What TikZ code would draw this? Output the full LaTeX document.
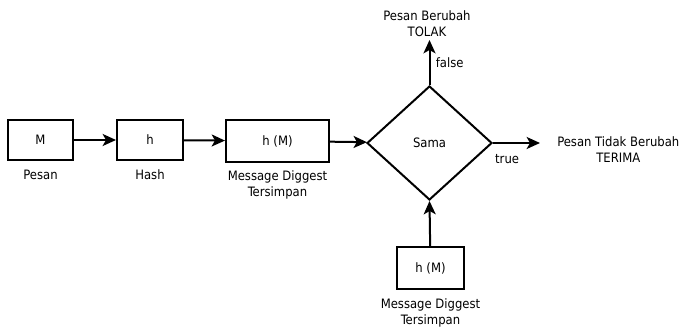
\documentclass[tikz,border=0pt]{standalone}
\usepackage{fontspec}
\setmainfont{DejaVu Sans Condensed}
\usepackage{tikz}
\usetikzlibrary{
  shapes.geometric,
  arrows.meta,
  positioning
}

\begin{document}
\begin{tikzpicture}[x=0.75pt, y=-0.75pt,
    every node/.style={font=\fontsize{9.7}{12}\selectfont},
    box/.style={draw, line width=1.5pt, inner sep=0pt, minimum height=30pt},
    decision/.style={draw, diamond, line width=1.5pt, inner sep=0pt, minimum width=93.75pt, minimum height=85.5pt},
    lbl/.style={align=center, inner sep=0pt},
    flow/.style={line width=1.5pt, -{Stealth[length=10pt, width=9pt, inset=2.5pt]}}
  ]
  \useasboundingbox (0,0) rectangle (687,331);

  \node[box, minimum width=48.75pt] (m) at (40.5,140) {M};
  \node[box, minimum width=49.5pt] (h) at (150,140) {h};
  \node[box, minimum width=77.25pt, minimum height=31.5pt] (hm) at (277.5,141) {h (M)};
  \node[decision] (sama) at (429.5,143) {Sama};
  \node[box, minimum width=50.25pt, minimum height=31.5pt] (hm2) at (430.5,268) {h (M)};

  \node[lbl, below=6.5pt of m] (pesan) {Pesan};
  \node[lbl, below=6.5pt of h] (hash) {Hash};
  \node[lbl, below=5.5pt of hm] (simpan) {Message Diggest\\Tersimpan};
  \node[lbl, below=6.5pt of hm2] (simpan2) {Message Diggest\\Tersimpan};

  \coordinate (tolak) at (429.5,40);
  \coordinate (terima) at (540,143);
  \node[lbl, anchor=south] (berubah) at (427,37) {Pesan Berubah\\TOLAK};
  \node[lbl, anchor=west] (tidak) at (557,150) {Pesan Tidak Berubah\\TERIMA};

  \draw[flow] (m) -- (h);
  \draw[flow] (h) -- (hm);
  \draw[flow] (hm) -- (sama);
  \draw[flow] (hm2) -- (sama.south);
  \draw[flow] (sama.north) -- (tolak) node[pos=0.5, right=4pt, lbl] {false};
  \draw[flow] (sama.east) -- (terima) node[pos=0.3, below=7.5pt, lbl] {true};
\end{tikzpicture}
\end{document}
